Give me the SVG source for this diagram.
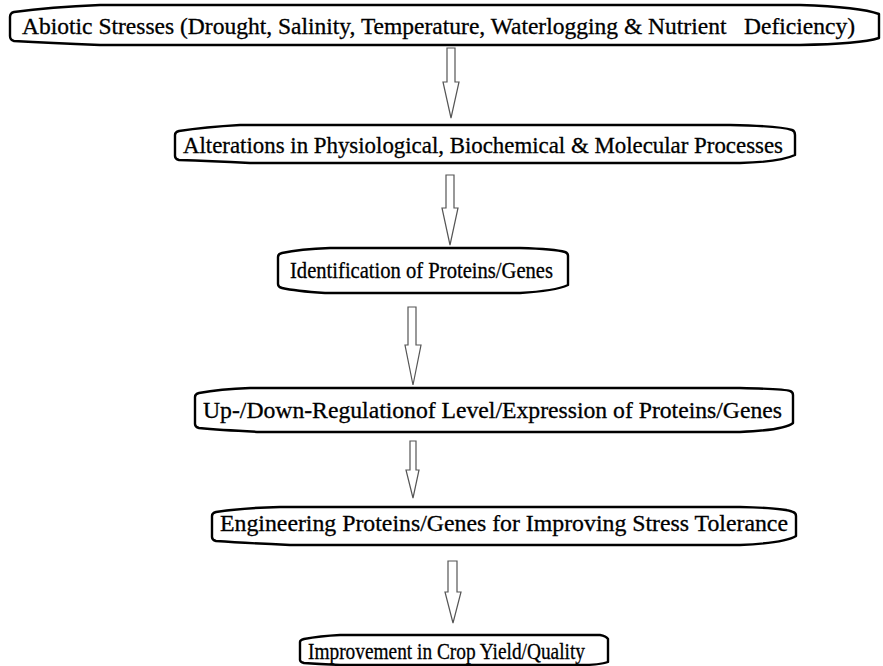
<svg xmlns="http://www.w3.org/2000/svg" width="883" height="666" viewBox="0 0 883 666">
<style>
.box{fill:#fff;stroke:#000;stroke-width:2.4;stroke-linejoin:round}
.lbl{font-family:"Liberation Serif","DejaVu Serif",serif;font-size:23px;fill:#000;stroke:#000;stroke-width:0.3;white-space:pre}
.arr{fill:#fff;stroke:#555;stroke-width:1.2;stroke-linejoin:miter}
</style>
<rect width="883" height="666" fill="#fff"/>
<g id="connectors">
<path class="arr" d="M447,48 L455,48 L455,82 L459,82 L451,118 L443,82 L447,82 Z"/>
<path class="arr" d="M446,175 L454,175 L454,208 L458,208 L450,245 L442,208 L446,208 Z"/>
<path class="arr" d="M408,307 L416,307 L416,345 L421,345 L413,385 L405,345 L408,345 Z"/>
<path class="arr" d="M410,441 L416,441 L416,470 L419,470 L413,498 L406,470 L410,470 Z"/>
<path class="arr" d="M448,561 L457,561 L457,592 L461,592 L453,623 L445,592 L448,592 Z"/>
</g>
<g id="n1">
<path class="box" d="M14,12 Q50,7 100,5 L800,5 Q860,7 879,14 L879,38 Q860,44 800,45 L100,45 Q50,43 14,41 Q10,40 10,36 L10,17 Q10,13 14,12 Z"/>
<text class="lbl" x="22" y="34" textLength="833" lengthAdjust="spacingAndGlyphs">Abiotic Stresses (Drought, Salinity, Temperature, Waterlogging &amp; Nutrient   Deficiency)</text>
</g>
<g id="n2">
<path class="box" d="M179,131 Q205,127 240,125 L730,125 Q780,126 792,130 Q795,131 795,135 L795,155 Q780,162 740,163 L250,163 Q210,161 179,160 Q175,159 175,156 L175,135 Q175,132 179,131 Z"/>
<text class="lbl" x="183" y="153" textLength="600" lengthAdjust="spacingAndGlyphs">Alterations in Physiological, Biochemical &amp; Molecular Processes</text>
</g>
<g id="n3">
<path class="box" d="M282,253 Q300,249 330,248 L520,248 Q555,249 565,252 Q568,253 568,256 L568,285 Q555,291 520,293 L325,293 Q295,291 282,288 Q278,287 278,284 L278,257 Q278,254 282,253 Z"/>
<text class="lbl" x="290" y="278" textLength="263" lengthAdjust="spacingAndGlyphs">Identification of Proteins/Genes</text>
</g>
<g id="n4">
<path class="box" d="M199,393 Q220,389 250,388 L740,388 Q785,389 790,391 Q793,392 793,395 L793,423 Q785,430 740,432 L260,432 Q220,430 199,428 Q195,427 195,424 L195,397 Q195,394 199,393 Z"/>
<text class="lbl" x="203" y="418" textLength="579" lengthAdjust="spacingAndGlyphs">Up-/Down-Regulationof Level/Expression of Proteins/Genes</text>
</g>
<g id="n5">
<path class="box" d="M216,512 Q240,508 280,507 L740,507 Q785,508 793,512 Q796,513 796,516 L796,536 Q785,543 740,545 L290,545 Q245,543 216,541 Q212,540 212,537 L212,516 Q212,513 216,512 Z"/>
<text class="lbl" x="220" y="531" textLength="568" lengthAdjust="spacingAndGlyphs">Engineering Proteins/Genes for Improving Stress Tolerance</text>
</g>
<g id="n6">
<path class="box" d="M304,639 Q320,636 340,635 L600,635 Q606,636 608,639 L608,662 Q600,665 580,665 L340,665 Q320,664 304,663 Q300,662 300,660 L300,642 Q300,640 304,639 Z"/>
<text class="lbl" x="308" y="659" textLength="277" lengthAdjust="spacingAndGlyphs">Improvement in Crop Yield/Quality</text>
</g>
</svg>
